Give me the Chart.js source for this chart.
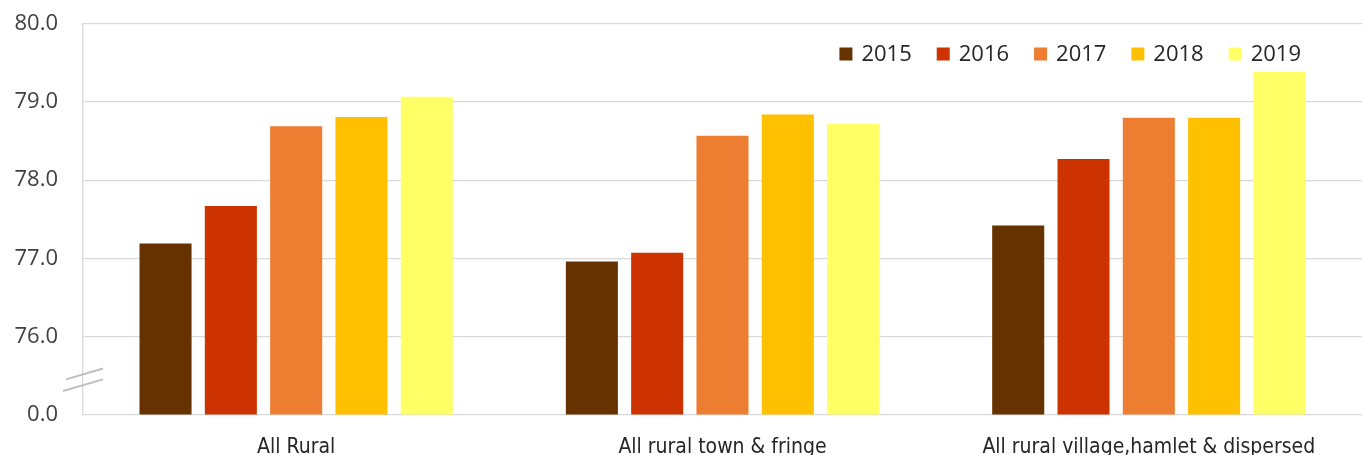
<!DOCTYPE html>
<html>
<head>
<meta charset="utf-8">
<script src="https://cdn.jsdelivr.net/npm/chart.js@4"></script>
<style>
  html, body { margin: 0; padding: 0; background: #fff; }
  #wrap { width: 1365px; height: 455px; position: relative; }
</style>
</head>
<body>
<div id="wrap"><canvas id="chart"></canvas></div>
<script>
// chart data
const categories = ['All Rural', 'All rural town & fringe', 'All rural village,hamlet & dispersed'];
const years = ['2015', '2016', '2017', '2018', '2019'];
const values2015 = [77.19, 76.96, 77.42];
const values2016 = [77.67, 77.07, 78.27];
const values2017 = [78.69, 78.57, 78.80];
const values2018 = [78.81, 78.84, 78.80];
const values2019 = [79.07, 78.72, 79.39];
const yearColors = ['#663300', '#CC3300', '#ED7D31', '#FFC000', '#FFFF66'];
// axis is broken: bottom tick stands for 0.0
const axisBase = 75;
const yTicks = [75, 76, 77, 78, 79, 80];

const series = [values2015, values2016, values2017, values2018, values2019];

// draws the two slanted "break" strokes on the value axis
const axisBreak = {
  id: 'axisBreak',
  afterDraw(chart) {
    const ctx = chart.ctx;
    const y = chart.scales.y;
    const x0 = chart.chartArea.left;
    ctx.save();
    ctx.strokeStyle = '#bfbfbf';
    ctx.lineWidth = 2;
    ctx.beginPath();
    ctx.moveTo(x0 - 17, y.getPixelForValue(axisBase + 0.45));
    ctx.lineTo(x0 + 20, y.getPixelForValue(axisBase + 0.59));
    ctx.moveTo(x0 - 20, y.getPixelForValue(axisBase + 0.30));
    ctx.lineTo(x0 + 20, y.getPixelForValue(axisBase + 0.45));
    ctx.stroke();
    ctx.restore();
  }
};

// one-row legend drawn inside the plot, top right
const insideLegend = {
  id: 'insideLegend',
  afterDraw(chart) {
    const ctx = chart.ctx;
    const area = chart.chartArea;
    const font = '22px "Open Sans"';
    const box = 13, gap = 9, spacing = 25;
    ctx.save();
    ctx.font = font;
    const widths = chart.data.datasets.map(ds => box + gap + ctx.measureText(ds.label).width);
    const total = widths.reduce((a, b) => a + b, 0) + spacing * (widths.length - 1);
    let x = area.right - 61 - total;
    const cy = area.top + 30;
    ctx.textBaseline = 'middle';
    ctx.textAlign = 'left';
    chart.data.datasets.forEach((ds, i) => {
      ctx.fillStyle = ds.backgroundColor;
      ctx.fillRect(x, cy - box / 2, box, box);
      ctx.fillStyle = '#262626';
      ctx.fillText(ds.label, x + box + gap, cy + 1);
      x += widths[i] + spacing;
    });
    ctx.restore();
  }
};

new Chart(document.getElementById('chart'), {
  type: 'bar',
  data: {
    labels: categories,
    datasets: years.map((yr, i) => ({
      label: yr,
      data: series[i],
      backgroundColor: yearColors[i],
      borderWidth: 0,
      barPercentage: 0.797,
      categoryPercentage: 0.766
    }))
  },
  options: {
    responsive: true,
    maintainAspectRatio: false,
    animation: false,
    layout: { padding: { top: 24, right: 3, left: 0, bottom: 0 } },
    plugins: {
      legend: { display: false },
      tooltip: { enabled: false }
    },
    scales: {
      x: {
        grid: { display: false },
        border: { display: false },
        ticks: {
          padding: 12,
          color: '#262626',
          maxRotation: 0,
          font: { family: '"DejaVu Sans Condensed", Roboto', size: 21 }
        },
        afterFit(scale) { scale.height = 40.5; }
      },
      y: {
        min: axisBase,
        max: 80,
        afterBuildTicks(scale) { scale.ticks = yTicks.map(v => ({ value: v })); },
        grid: { color: '#d9d9d9', lineWidth: 1.3, drawTicks: false },
        border: { display: true, color: '#d9d9d9', width: 1.3 },
        ticks: {
          padding: 25,
          color: '#404040',
          font: { family: 'Open Sans', size: 22 },
          callback: v => (v === axisBase ? '0.0' : v.toFixed(1))
        },
        afterFit(scale) {
          scale.width = 83;
          scale.paddingTop = 0;
          scale.paddingBottom = 0;
        }
      }
    }
  },
  plugins: [axisBreak, insideLegend]
});
</script>
</body>
</html>
